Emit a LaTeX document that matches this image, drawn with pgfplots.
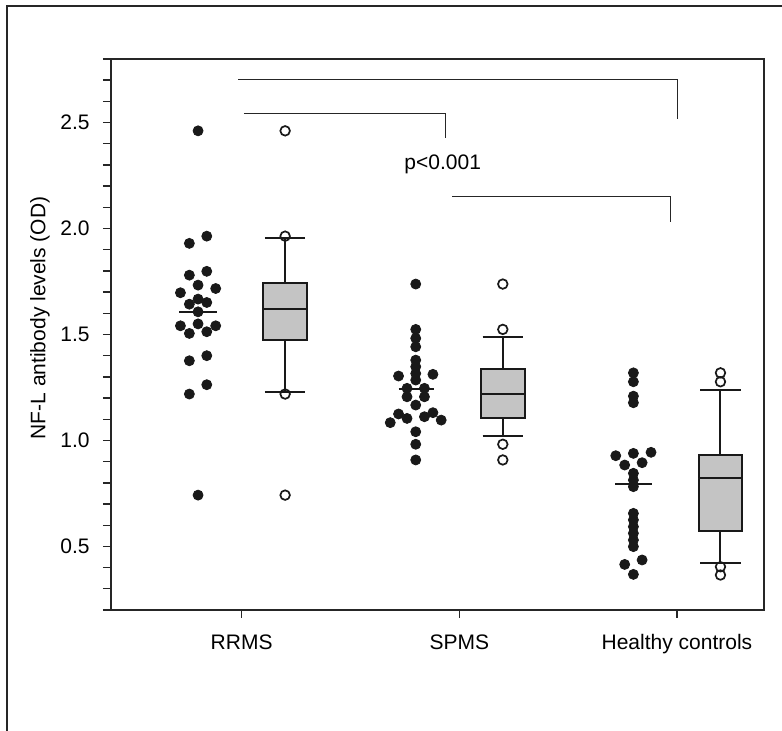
\documentclass[border=0pt]{standalone}
\usepackage{fontspec}
\setmainfont{Liberation Sans}
\usepackage{pgfplots}
\pgfplotsset{compat=1.18}
\usepgfplotslibrary{statistics}

% single dots per group (x = jittered position, y = OD)
\pgfplotstableread{
x y
0.800 2.461
0.840 1.964
0.760 1.930
0.840 1.798
0.760 1.780
0.800 1.733
0.881 1.717
0.719 1.697
0.800 1.667
0.760 1.643
0.840 1.651
0.800 1.607
0.719 1.541
0.800 1.550
0.881 1.541
0.760 1.505
0.840 1.513
0.760 1.376
0.840 1.400
0.840 1.263
0.760 1.219
0.800 0.742
}\rrms
\pgfplotstableread{
x y
1.800 1.738
1.800 1.524
1.800 1.482
1.800 1.442
1.800 1.379
1.800 1.348
1.800 1.316
1.800 1.285
1.721 1.304
1.879 1.312
1.760 1.246
1.840 1.246
1.760 1.206
1.840 1.206
1.800 1.167
1.721 1.125
1.879 1.131
1.683 1.084
1.760 1.104
1.840 1.112
1.917 1.096
1.800 1.041
1.800 0.982
1.800 0.908
}\spms
\pgfplotstableread{
x y
2.800 1.319
2.800 1.277
2.800 1.209
2.800 1.178
2.719 0.928
2.800 0.939
2.881 0.944
2.760 0.884
2.840 0.895
2.800 0.845
2.800 0.813
2.800 0.782
2.800 0.656
2.800 0.625
2.800 0.593
2.800 0.562
2.800 0.530
2.800 0.499
2.760 0.415
2.840 0.436
2.800 0.368
}\hc
% outliers beyond the whiskers
\pgfplotstableread{
x y
1.2 2.461
1.2 1.964
1.2 1.219
1.2 0.742
2.2 1.738
2.2 1.524
2.2 0.982
2.2 0.908
3.2 1.319
3.2 1.277
3.2 0.404
3.2 0.365
}\outl

\begin{document}
\fontsize{10.5}{12.6}\selectfont
\begin{tikzpicture}[x=1pt,y=1pt]
\useasboundingbox (0,0) rectangle (391,365.5);
\draw[line width=1pt, black!85] (3.25,-2) -- (3.25,362.5) -- (395,362.5);
\begin{axis}[
  at={(55.5pt,60.5pt)}, anchor=south west,
  scale only axis, width=326.5pt, height=275.5pt,
  xmin=0.4, xmax=3.4, ymin=0.2, ymax=2.8,
  axis line style={line width=1pt, black!85},
  tick align=outside, xtick pos=bottom, ytick pos=left,
  major tick length=4pt, minor tick length=4pt,
  tick style={line width=0.7pt, black!85},
  xtick={1,2,3}, xticklabels={RRMS,SPMS,Healthy controls},
  xticklabel style={yshift=-4.5pt},
  ytick={0.5,1.0,1.5,2.0,2.5},
  minor ytick={0.2,0.3,0.4,0.6,0.7,0.8,0.9,1.1,1.2,1.3,1.4,1.6,1.7,1.8,1.9,2.1,2.2,2.3,2.4,2.6,2.7,2.8},
  yticklabel style={xshift=-3pt, /pgf/number format/.cd, fixed, fixed zerofill, precision=1},
  /pgf/number format/assume math mode=true,
  tick label style={font=\fontsize{10.5}{12.6}\selectfont},
  ylabel={NF-L antibody levels (OD)},
  ylabel style={at={(axis description cs:-0.109,0.53)}, anchor=center},
  boxplot/draw direction=y,
  clip=false,
]
% dot plots
\addplot[only marks, mark=*, mark size=2.5pt, black!90] table[x=x,y=y] {\rrms};
\addplot[only marks, mark=*, mark size=2.5pt, black!90] table[x=x,y=y] {\spms};
\addplot[only marks, mark=*, mark size=2.5pt, black!90] table[x=x,y=y] {\hc};
% mean lines
\addplot[line width=1pt, black!90] coordinates {(0.713,1.605) (0.887,1.605)};
\addplot[line width=1pt, black!90] coordinates {(1.721,1.242) (1.882,1.242)};
\addplot[line width=1pt, black!90] coordinates {(2.717,0.794) (2.886,0.794)};
% box plots
\addplot[draw=black!90, fill=black!23, line width=1pt,
  boxplot prepared={draw position=1.2, lower whisker=1.230, lower quartile=1.476,
    median=1.618, upper quartile=1.741, upper whisker=1.953,
    box extend=0.2, whisker extend=0.185}] coordinates {};
\addplot[draw=black!90, fill=black!23, line width=1pt,
  boxplot prepared={draw position=2.2, lower whisker=1.022, lower quartile=1.104,
    median=1.217, upper quartile=1.335, upper whisker=1.490,
    box extend=0.2, whisker extend=0.185}] coordinates {};
\addplot[draw=black!90, fill=black!23, line width=1pt,
  boxplot prepared={draw position=3.2, lower whisker=0.423, lower quartile=0.574,
    median=0.821, upper quartile=0.931, upper whisker=1.238,
    box extend=0.2, whisker extend=0.185}] coordinates {};
\addplot[only marks, mark=o, mark size=2.4pt, line width=0.85pt, black!90,
  mark options={fill=white}] table[x=x,y=y] {\outl};
% significance brackets
\addplot[line width=0.5pt, black!85] coordinates {(0.984,2.705) (3.002,2.705) (3.002,2.519)};
\addplot[line width=0.5pt, black!85] coordinates {(1.011,2.543) (1.939,2.543) (1.939,2.428)};
\addplot[line width=0.5pt, black!85] coordinates {(1.968,2.149) (2.970,2.149) (2.970,2.030)};
\node[font=\fontsize{10.5}{12.6}\selectfont] at (axis cs:1.924,2.304) {p<0.001};
\end{axis}
\end{tikzpicture}
\end{document}
